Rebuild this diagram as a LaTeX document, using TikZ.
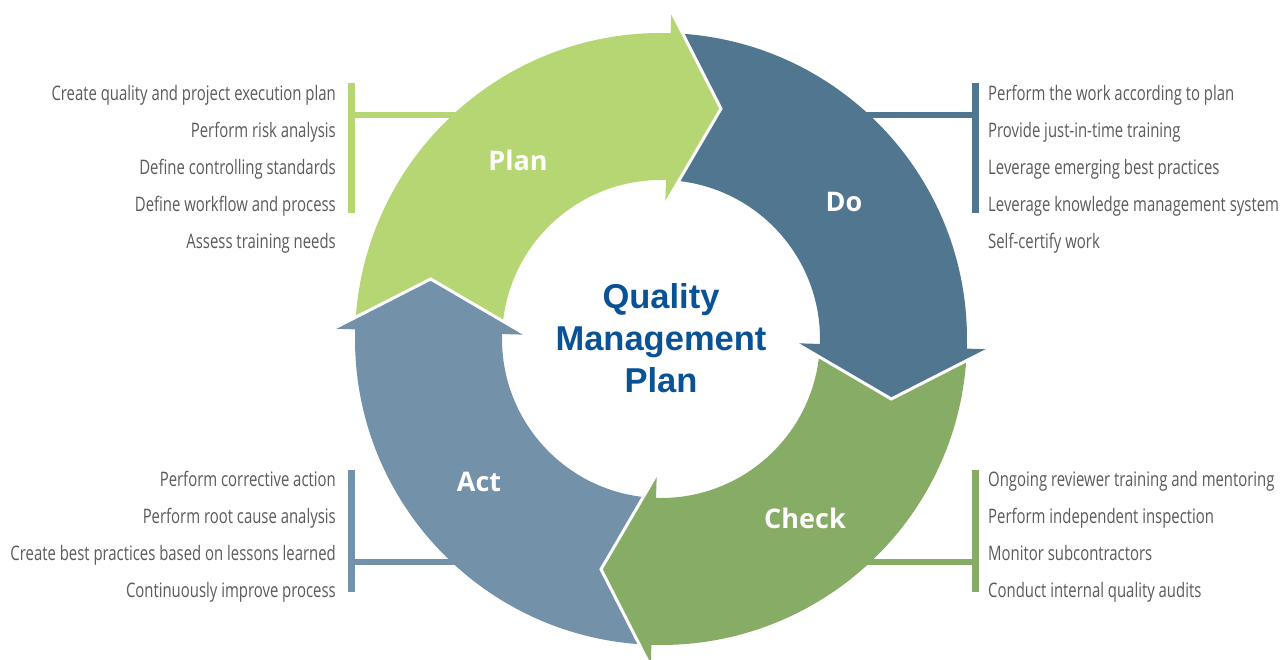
\documentclass[tikz,border=0pt]{standalone}
\usepackage{fontspec}
\newfontfamily\listfont{Open Sans}[FakeStretch=0.745]
\newfontfamily\labfont{Open Sans}
\newfontfamily\titlefont{Liberation Sans}
\definecolor{plancol}{RGB}{181,214,115}
\definecolor{docol}{RGB}{80,119,143}
\definecolor{checkcol}{RGB}{135,172,101}
\definecolor{actcol}{RGB}{115,145,168}
\definecolor{listgray}{RGB}{90,90,90}
\definecolor{titleblue}{RGB}{10,82,150}
\tikzset{
  listL/.style={anchor=base east, inner sep=0pt, text=listgray, font=\listfont\fontsize{20}{24}\selectfont},
  listR/.style={anchor=base west, inner sep=0pt, text=listgray, font=\listfont\fontsize{20}{24}\selectfont},
  arrlabel/.style={inner sep=0pt, text=white, font=\labfont\bfseries\fontsize{27}{30}\selectfont},
  headedge/.style={draw=white, line width=3pt, line join=miter},
  barline/.style={line width=7pt},
  linkline/.style={line width=6pt}
}
\begin{document}
\begin{tikzpicture}[x=1pt,y=1pt]
\useasboundingbox (0,0) rectangle (1286,660);
% brackets (drawn first, arrows on top)
\coordinate (pb1) at (351.5,577); \coordinate (pb2) at (351.5,447);
\coordinate (pj) at (351.5,545); \coordinate (pe) at (470,545);
\coordinate (db1) at (975.5,577); \coordinate (db2) at (975.5,447);
\coordinate (dj) at (975.5,545); \coordinate (de) at (850,545);
\coordinate (cb1) at (975.5,190); \coordinate (cb2) at (975.5,68);
\coordinate (cj) at (975.5,98); \coordinate (ce) at (850,98);
\coordinate (ab1) at (351.5,190); \coordinate (ab2) at (351.5,68);
\coordinate (aj) at (351.5,98); \coordinate (ae) at (480,98);
\draw[barline, plancol] (pb1) -- (pb2);
\draw[linkline, plancol] (pj) -- (pe);
\draw[barline, docol] (db1) -- (db2);
\draw[linkline, docol] (dj) -- (de);
\draw[barline, checkcol] (cb1) -- (cb2);
\draw[linkline, checkcol] (cj) -- (ce);
\draw[barline, actcol] (ab1) -- (ab2);
\draw[linkline, actcol] (aj) -- (ae);
% cycle arrows
\begin{scope}[shift={(661,321)}]
  % bodies (each runs a little under its own head, and its tail hides under the previous head)
  \fill[plancol] (176.7:306) arc[start angle=176.7, end angle=87.2, radius=306] -- (87.2:159) arc[start angle=87.2, end angle=176.7, radius=159] -- cycle;
  \fill[docol] (86.7:306) arc[start angle=86.7, end angle=-2.8, radius=306] -- (-2.8:159) arc[start angle=-2.8, end angle=86.7, radius=159] -- cycle;
  \fill[checkcol] (-3.3:306) arc[start angle=-3.3, end angle=-92.8, radius=306] -- (-92.8:159) arc[start angle=-92.8, end angle=-3.3, radius=159] -- cycle;
  \fill[actcol] (266.7:306) arc[start angle=266.7, end angle=177.2, radius=306] -- (177.2:159) arc[start angle=177.2, end angle=266.7, radius=159] -- cycle;
  % heads
  \fill[plancol] (88.2:328) -- (75.4:238) -- (88.2:135) -- cycle;
  \draw[headedge] (88.2:328) -- (75.4:238) -- (88.2:135);
  \fill[docol] (-1.8:328) -- (-14.6:238) -- (-1.8:135) -- cycle;
  \draw[headedge] (-1.8:328) -- (-14.6:238) -- (-1.8:135);
  \fill[checkcol] (-91.8:328) -- (-104.6:238) -- (-91.8:135) -- cycle;
  \draw[headedge] (-91.8:328) -- (-104.6:238) -- (-91.8:135);
  \fill[actcol] (178.2:328) -- (165.4:238) -- (178.2:135) -- cycle;
  \draw[headedge] (178.2:328) -- (165.4:238) -- (178.2:135);
\end{scope}
% arrow labels
\node[arrlabel] (lplan) at (518,500) {Plan};
\node[arrlabel] (ldo) at (844,458) {Do};
\node[arrlabel] (lcheck) at (805,142) {Check};
\node[arrlabel] (lact) at (479,178) {Act};
% title
\node[align=center, text=titleblue, inner sep=0pt, font=\titlefont\bfseries\fontsize{34.5}{42}\selectfont] (title) at (661,322) {Quality\\Management\\Plan};
% Plan list
\node[listL] (p1) at (336,559) {Create quality and project execution plan};
\node[listL] (p2) at (336,522) {Perform risk analysis};
\node[listL] (p3) at (336,485) {Define controlling standards};
\node[listL] (p4) at (336,448) {Define workflow and process};
\node[listL] (p5) at (336,411) {Assess training needs};
% Do list
\node[listR] (d1) at (988,559) {Perform the work according to plan};
\node[listR] (d2) at (988,522) {Provide just-in-time training};
\node[listR] (d3) at (988,485) {Leverage emerging best practices};
\node[listR] (d4) at (988,448) {Leverage knowledge management system};
\node[listR] (d5) at (988,411) {Self-certify work};
% Act list
\node[listL] (a1) at (336,173) {Perform corrective action};
\node[listL] (a2) at (336,136) {Perform root cause analysis};
\node[listL] (a3) at (336,99) {Create best practices based on lessons learned};
\node[listL] (a4) at (336,62) {Continuously improve process};
% Check list
\node[listR] (c1) at (988,173) {Ongoing reviewer training and mentoring};
\node[listR] (c2) at (988,136) {Perform independent inspection};
\node[listR] (c3) at (988,99) {Monitor subcontractors};
\node[listR] (c4) at (988,62) {Conduct internal quality audits};
\end{tikzpicture}
\end{document}
